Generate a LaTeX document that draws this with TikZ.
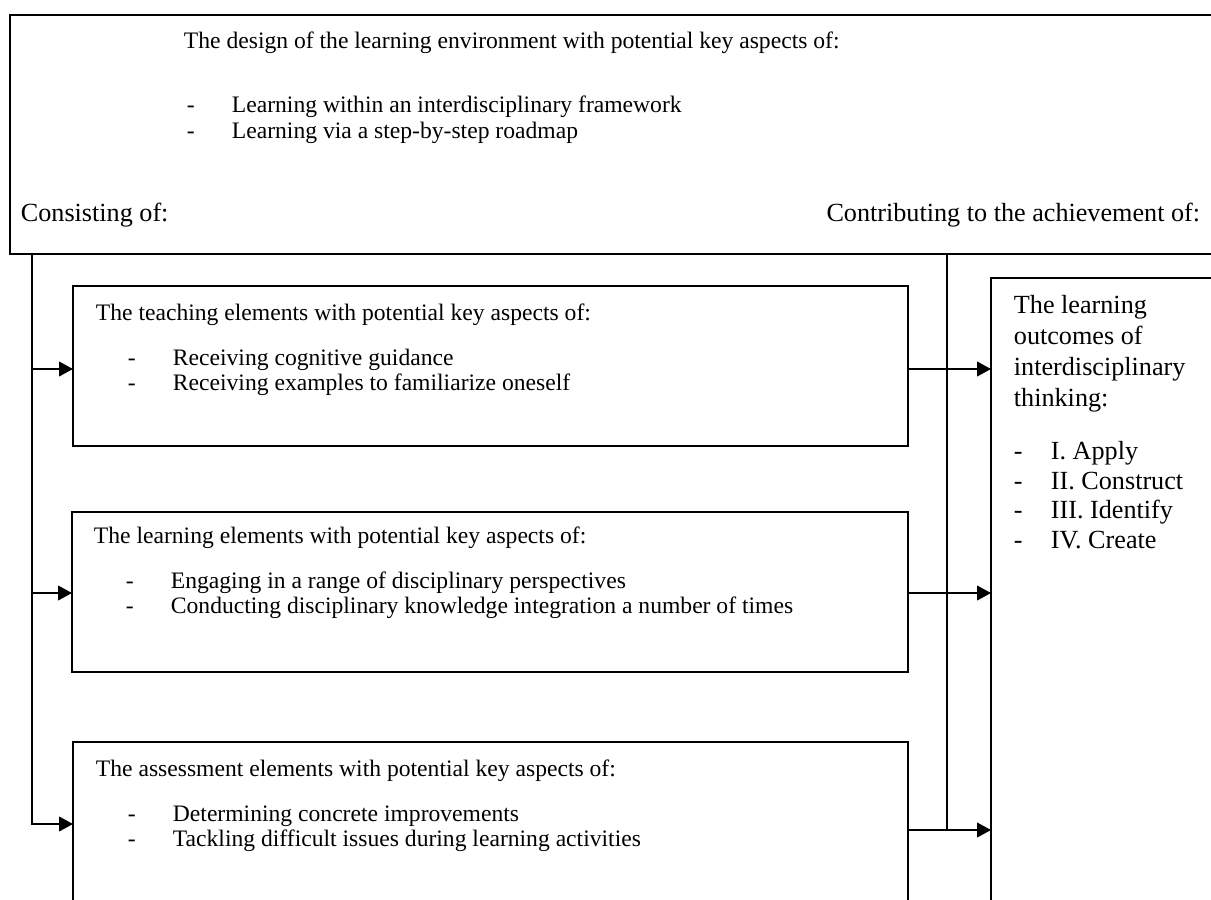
\documentclass[tikz,border=0pt]{standalone}
\usepackage{fontspec}
\setmainfont{Liberation Serif}
\usetikzlibrary{arrows.meta,fit}

\tikzset{
  box/.style={draw, line width=1pt, inner sep=0pt, outer sep=0pt},
  txt/.style={anchor=mid west, inner sep=0pt},
  bigtxt/.style={txt, font=\fontsize{14.3}{16.4}\selectfont},
  arr/.style={-{Triangle[length=7.6pt,width=8pt]}},
}

\begin{document}
\begin{tikzpicture}[x=0.5464pt, y=-0.5464pt, line width=1pt,
    font=\fontsize{12.9}{15}\selectfont]
\useasboundingbox (0,0) rectangle (1211,899);
\clip (0,0) rectangle (1211,899);

% the five boxes
\node[box, fit={(10,15) (1240,254)}] (design) {};
\node[box, fit={(73,286) (908,446)}] (teach) {};
\node[box, fit={(72,512) (908,672)}] (learn) {};
\node[box, fit={(73,742) (908,930)}] (assess) {};
\node[box, fit={(991,278) (1240,930)}] (outcome) {};

% design of the learning environment
\node[txt] (designhead) at (183,44) {The design of the learning environment with potential key aspects of:};
\node[txt] (designdasha) at (186,108) {-};
\node[txt] (designa) at (231,108) {Learning within an interdisciplinary framework};
\node[txt] (designdashb) at (186,134) {-};
\node[txt] (designb) at (231,134) {Learning via a step-by-step roadmap};
\node[bigtxt] (consist) at (20,217) {Consisting of:};
\node[bigtxt, anchor=mid east] (contrib) at (1201,217) {Contributing to the achievement of:};

% teaching elements
\node[txt] (teachhead) at (95,316) {The teaching elements with potential key aspects of:};
\node[txt] (teachdasha) at (127,361) {-};
\node[txt] (teacha) at (172,361) {Receiving cognitive guidance};
\node[txt] (teachdashb) at (127,386) {-};
\node[txt] (teachb) at (172,386) {Receiving examples to familiarize oneself};

% learning elements
\node[txt] (learnhead) at (93,539) {The learning elements with potential key aspects of:};
\node[txt] (learndasha) at (125,584) {-};
\node[txt] (learna) at (170,584) {Engaging in a range of disciplinary perspectives};
\node[txt] (learndashb) at (125,609) {-};
\node[txt] (learnb) at (170,609) {Conducting disciplinary knowledge integration a number of times};

% assessment elements
\node[txt] (assesshead) at (95,772) {The assessment elements with potential key aspects of:};
\node[txt] (assessdasha) at (127,817) {-};
\node[txt] (assessa) at (172,817) {Determining concrete improvements};
\node[txt] (assessdashb) at (127,842) {-};
\node[txt] (assessb) at (172,842) {Tackling difficult issues during learning activities};

% learning outcomes
\node[bigtxt] (outa) at (1013,309) {The learning};
\node[bigtxt] (outb) at (1013,340) {outcomes of};
\node[bigtxt] (outc) at (1013,371) {interdisciplinary};
\node[bigtxt] (outd) at (1013,402) {thinking:};
\foreach \lvl/\name [count=\i] in {I. Apply/apply, II. Construct/construct, III. Identify/identify, IV. Create/create}{
  \node[bigtxt] (dash\name) at (1013,426+29.5*\i) {-};
  \node[bigtxt] (\name) at (1050,426+29.5*\i) {\lvl};
}

% connectors
\coordinate (lefttrunk) at (32,254);
\coordinate (righttrunk) at (947,254);
\coordinate (teachin) at (73,369);
\coordinate (learnin) at (72,593);
\coordinate (assessin) at (73,824);
\coordinate (teachout) at (908,369);
\coordinate (learnout) at (908,593);
\coordinate (assessout) at (908,830);

\draw[arr] (lefttrunk) |- (assessin);
\draw[arr] (lefttrunk |- teachin) -- (teachin);
\draw[arr] (lefttrunk |- learnin) -- (learnin);

\draw (righttrunk) -- (righttrunk |- assessout);
\draw[arr] (teachout) -- (outcome.west |- teachout);
\draw[arr] (learnout) -- (outcome.west |- learnout);
\draw[arr] (assessout) -- (outcome.west |- assessout);

\end{tikzpicture}
\end{document}
